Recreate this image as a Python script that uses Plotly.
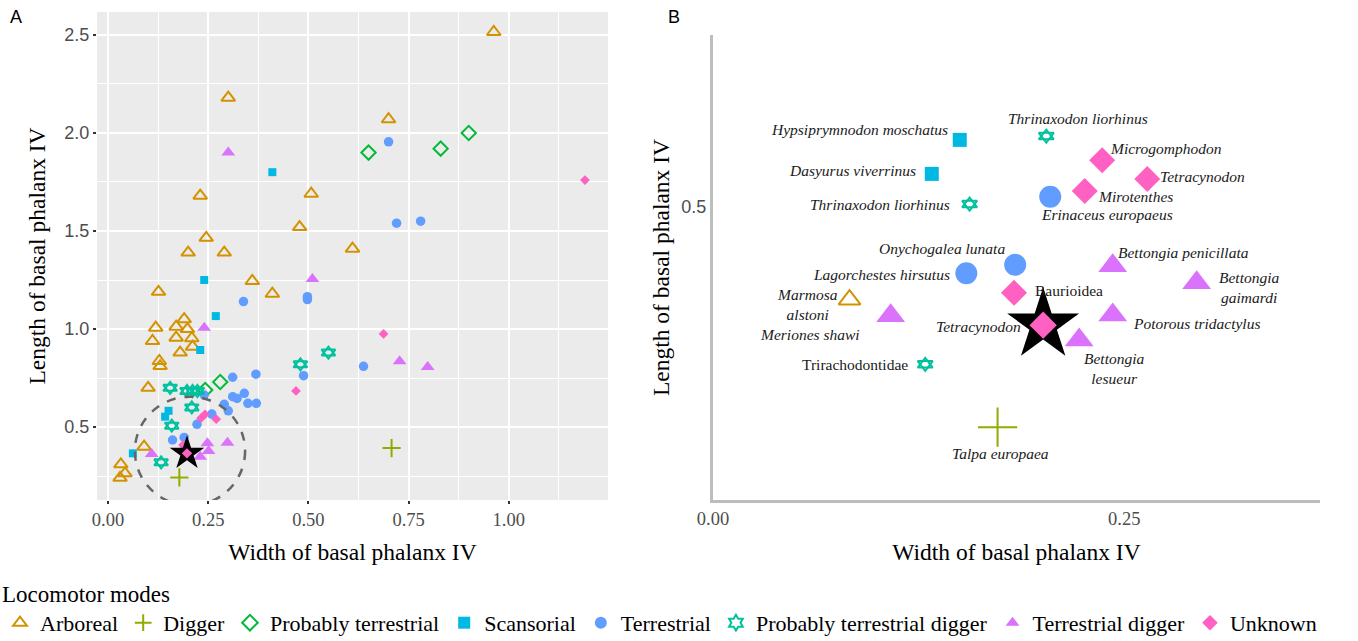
import plotly.graph_objects as go

SERIF = "Liberation Serif"
SANS = "Liberation Sans"

# ---------------- categories / styles ----------------
modes = ["Arboreal", "Digger", "Probably terrestrial", "Scansorial", "Terrestrial",
         "Probably terrestrial digger", "Terrestrial digger", "Unknown"]
mode_colors = ["#D39200", "#93AA00", "#00BA38", "#00B9E3", "#619CFF", "#00C19F", "#DB72FB", "#FF61C3"]
mode_symbols = ["triangle-up-open", "cross-thin-open", "diamond-open", "square", "circle",
                "triangle-up-open", "triangle-up", "diamond"]
size_a = [12, 13, 11, 8, 9.5, 12, 12, 7.5]
size_b = [19, 28, 18, 14, 22, 13, 25, 20]
OPEN_MODES = ("Arboreal", "Digger", "Probably terrestrial", "Probably terrestrial digger")
STAR_OF_DAVID = "Probably terrestrial digger"

# ---------------- Panel A data ----------------
arboreal_x = [0.9625, 0.70, 0.30, 0.23, 0.507, 0.478, 0.245, 0.20, 0.29, 0.61, 0.36, 0.41,
              0.126, 0.19, 0.17, 0.119, 0.198, 0.111, 0.17, 0.209, 0.211, 0.18, 0.128, 0.13,
              0.10, 0.09, 0.032, 0.0425, 0.03]
arboreal_y = [2.515, 2.07, 2.18, 1.68, 1.69, 1.52, 1.465, 1.39, 1.39, 1.41, 1.245, 1.18,
              1.19, 1.05, 1.012, 1.007, 1.00, 0.939, 0.956, 0.953, 0.91, 0.88, 0.837, 0.811,
              0.70, 0.40, 0.31, 0.264, 0.241]
digger_x = [0.178, 0.7075]
digger_y = [0.243, 0.393]
prob_terr_x = [0.65, 0.83, 0.90, 0.28, 0.2425]
prob_terr_y = [1.90, 1.92, 2.00, 0.73, 0.689]
scansorial_x = [0.41, 0.24, 0.269, 0.23, 0.151, 0.1425, 0.062]
scansorial_y = [1.80, 1.25, 1.066, 0.893, 0.583, 0.553, 0.366]
terrestrial_x = [0.70, 0.72, 0.78, 0.338, 0.4975, 0.4975, 0.311, 0.369, 0.488, 0.6375, 0.24,
                 0.311, 0.322, 0.34, 0.349, 0.37, 0.29, 0.30, 0.259, 0.222, 0.19, 0.161]
terrestrial_y = [1.955, 1.54, 1.55, 1.14, 1.165, 1.15, 0.754, 0.77, 0.762, 0.81, 0.663,
                 0.655, 0.646, 0.672, 0.621, 0.621, 0.616, 0.583, 0.566, 0.514, 0.447, 0.434]
prob_terr_digger_x = [0.155, 0.197, 0.211, 0.223, 0.209, 0.159, 0.1325, 0.48, 0.55]
prob_terr_digger_y = [0.70, 0.684, 0.684, 0.684, 0.60, 0.507, 0.32, 0.82, 0.88]
terr_digger_x = [0.30, 0.51, 0.24, 0.7275, 0.7975, 0.248, 0.251, 0.298, 0.23, 0.109]
terr_digger_y = [1.90, 1.255, 1.007, 0.836, 0.806, 0.417, 0.378, 0.42, 0.349, 0.362]
unknown_x = [1.19, 0.6875, 0.469, 0.232, 0.242, 0.27, 0.187]
unknown_y = [1.76, 0.975, 0.684, 0.545, 0.565, 0.54, 0.408]

focal_a_x = [0.197]
focal_a_y = [0.366]

a_x = [arboreal_x, digger_x, prob_terr_x, scansorial_x, terrestrial_x,
       prob_terr_digger_x, terr_digger_x, unknown_x]
a_y = [arboreal_y, digger_y, prob_terr_y, scansorial_y, terrestrial_y,
       prob_terr_digger_y, terr_digger_y, unknown_y]

# highlighted region (dashed circle) in panel A data units
circle_x = [0.067, 0.342]
circle_y = [0.10, 0.655]

# ---------------- Panel B data ----------------
b_species = ["Hypsiprymnodon moschatus", "Dasyurus viverrinus", "Thrinaxodon liorhinus",
             "Thrinaxodon liorhinus", "Microgomphodon", "Tetracynodon", "Mirotenthes",
             "Erinaceus europaeus", "Onychogalea lunata", "Lagorchestes hirsutus", "Baurioidea",
             "Marmosa<br>alstoni", "Meriones shawi", "Trirachodontidae", "Talpa europaea",
             "Bettongia penicillata", "Bettongia<br>gaimardi", "Potorous tridactylus",
             "Bettongia<br>lesueur"]
b_mode = ["Scansorial", "Scansorial", "Probably terrestrial digger", "Probably terrestrial digger",
          "Unknown", "Unknown", "Unknown", "Terrestrial", "Terrestrial", "Terrestrial", "Unknown",
          "Arboreal", "Terrestrial digger", "Probably terrestrial digger", "Digger",
          "Terrestrial digger", "Terrestrial digger", "Terrestrial digger", "Terrestrial digger"]
b_x = [0.150, 0.133, 0.156, 0.2026, 0.2366, 0.264, 0.226, 0.205, 0.1837, 0.154, 0.183,
       0.083, 0.108, 0.129, 0.173, 0.243, 0.294, 0.243, 0.2226]
b_y = [0.579, 0.539, 0.5035, 0.5835, 0.555, 0.533, 0.519, 0.512, 0.432, 0.422, 0.399,
       0.391, 0.372, 0.315, 0.241, 0.431, 0.411, 0.373, 0.3435]
b_italic = [True, True, True, True, True, True, True, True, True, True, False,
            True, True, False, True, True, True, True, True]
focal_b_name = "Tetracynodon"
focal_b_x = [0.2007]
focal_b_y = [0.361]

# label placement (pixel offsets, anchors)
lab_xanchor = ["right", "right", "right", "center", "left", "left", "left", "left", "right",
               "right", "left", "right", "right", "right", "center", "left", "left", "left", "center"]
lab_xshift = [-10, -14, -18, 32, 6, 11, 11, -11, -8, -14, 19, -10, -29, -15, 3, 3, 20, 18, 35]
lab_yshift = [10, 3, 0, 18, 12, 2, -6, -18, 16, -1, 2, -5, -19, 0, -26, 13, -5, -9, -28]

# ---------------- figure ----------------
fig = go.Figure()


def add_mode_trace(xs, ys, i, size, xa, ya, show):
    m = modes[i]
    is_open = m in OPEN_MODES
    marker = dict(symbol=mode_symbols[i], size=size, color=mode_colors[i],
                  line=dict(width=2 if is_open else 0, color=mode_colors[i]))
    if m == STAR_OF_DAVID:
        # star of David = up + down open triangles
        fig.add_trace(go.Scatter(x=xs, y=ys, mode="markers", showlegend=False, legendgroup=m,
                                 xaxis=xa, yaxis=ya, marker=marker))
        fig.add_trace(go.Scatter(x=xs, y=ys, mode="markers", showlegend=False, legendgroup=m,
                                 xaxis=xa, yaxis=ya,
                                 marker=dict(marker, symbol="triangle-down-open")))
        if show:
            fig.add_trace(go.Scatter(x=[None], y=[None], mode="markers", name=m, legendgroup=m,
                                     xaxis=xa, yaxis=ya,
                                     marker=dict(symbol="hexagram-open", size=12,
                                                 color=mode_colors[i],
                                                 line=dict(width=1.5, color=mode_colors[i]))))
    else:
        fig.add_trace(go.Scatter(x=xs, y=ys, mode="markers", name=m, legendgroup=m,
                                 showlegend=show, xaxis=xa, yaxis=ya, marker=marker))


for i, m in enumerate(modes):
    add_mode_trace(a_x[i], a_y[i], i, size_a[i], "x", "y", True)

fig.add_trace(go.Scatter(x=focal_a_x, y=focal_a_y, mode="markers", showlegend=False,
                         xaxis="x", yaxis="y",
                         marker=dict(symbol="star", size=26, color="black", line=dict(width=0))))
fig.add_trace(go.Scatter(x=focal_a_x, y=focal_a_y, mode="markers", showlegend=False,
                         xaxis="x", yaxis="y",
                         marker=dict(symbol="diamond", size=8, color=mode_colors[7], line=dict(width=0))))

# panel B
for i, m in enumerate(modes):
    idx = [k for k, mm in enumerate(b_mode) if mm == m]
    if not idx:
        continue
    add_mode_trace([b_x[k] for k in idx], [b_y[k] for k in idx], i, size_b[i], "x2", "y2", False)

fig.add_trace(go.Scatter(x=focal_b_x, y=focal_b_y, mode="markers", showlegend=False,
                         xaxis="x2", yaxis="y2",
                         marker=dict(symbol="star", size=54, color="black", line=dict(width=0))))
fig.add_trace(go.Scatter(x=focal_b_x, y=focal_b_y, mode="markers", showlegend=False,
                         xaxis="x2", yaxis="y2",
                         marker=dict(symbol="diamond", size=21, color=mode_colors[7], line=dict(width=0))))

LABEL_SIZE = 15.5
annotations = []
for k, name in enumerate(b_species):
    txt = f"<i>{name}</i>" if b_italic[k] else name
    annotations.append(dict(
        x=b_x[k], y=b_y[k], xref="x2", yref="y2", text=txt, showarrow=False,
        xanchor=lab_xanchor[k], yanchor="middle", xshift=lab_xshift[k], yshift=lab_yshift[k],
        align="center", font=dict(family=SERIF, size=LABEL_SIZE, color="#1A1A1A")))
annotations.append(dict(
    x=focal_b_x[0], y=focal_b_y[0], xref="x2", yref="y2", text=f"<i>{focal_b_name}</i>",
    showarrow=False, xanchor="right", yanchor="middle", xshift=-20, yshift=-1,
    font=dict(family=SERIF, size=LABEL_SIZE, color="#1A1A1A")))

# panel letters
annotations.append(dict(x=8 / 1358, y=1 - 17 / 641, xref="paper", yref="paper", text="A",
                        showarrow=False, xanchor="left", yanchor="middle",
                        font=dict(family=SANS, size=18, color="black")))
annotations.append(dict(x=666 / 1358, y=1 - 17 / 641, xref="paper", yref="paper", text="B",
                        showarrow=False, xanchor="left", yanchor="middle",
                        font=dict(family=SANS, size=18, color="black")))

shapes = [
    dict(type="rect", xref="x domain", yref="y domain", x0=0, x1=1, y0=0, y1=1,
         fillcolor="#EBEBEB", line=dict(width=0), layer="below"),
    dict(type="circle", xref="x", yref="y", x0=circle_x[0], x1=circle_x[1],
         y0=circle_y[0], y1=circle_y[1], line=dict(color="#666666", width=2.5, dash="dash"),
         layer="above"),
]

title_font = dict(family=SERIF, size=23.5, color="black")

fig.update_layout(
    width=1358, height=641,
    margin=dict(l=0, r=0, t=0, b=0, autoexpand=False),
    paper_bgcolor="white", plot_bgcolor="rgba(0,0,0,0)",
    showlegend=True,
    xaxis=dict(domain=[97 / 1358, 608 / 1358], anchor="y", range=[-0.0275, 1.2475],
               automargin=False,
               tickmode="linear", tick0=0, dtick=0.25, tickformat=".2f",
               showgrid=True, gridcolor="white", gridwidth=2, zeroline=False,
               minor=dict(tick0=0, dtick=0.125, showgrid=True, gridcolor="white", gridwidth=1),
               ticks="outside", ticklen=3, tickwidth=2, tickcolor="#333333",
               tickfont=dict(family=SERIF, size=18.5, color="#4D4D4D"),
               title=dict(text="Width of basal phalanx IV", font=title_font, standoff=14),
               showline=False),
    yaxis=dict(domain=[141 / 641, 629 / 641], anchor="x", range=[0.128, 2.617],
               automargin=False,
               tickmode="linear", tick0=0, dtick=0.5, tickformat=".1f",
               showgrid=True, gridcolor="white", gridwidth=2, zeroline=False,
               minor=dict(tick0=0, dtick=0.25, showgrid=True, gridcolor="white", gridwidth=1),
               ticks="outside", ticklen=3, tickwidth=2, tickcolor="#333333",
               tickfont=dict(family=SANS, size=18, color="#4D4D4D"),
               title=dict(text="Length of basal phalanx IV", font=title_font, standoff=12),
               showline=False),
    xaxis2=dict(domain=[713 / 1358, 1320 / 1358], anchor="y2", range=[0, 0.369],
                automargin=False,
                tickvals=[0, 0.25], ticktext=["0.00", "0.25"], showgrid=False, zeroline=False,
                showline=True, linecolor="#BDBDBD", linewidth=3, ticks="",
                tickfont=dict(family=SERIF, size=18.5, color="#4D4D4D"),
                title=dict(text="Width of basal phalanx IV", font=title_font, standoff=16)),
    yaxis2=dict(domain=[141 / 641, 606 / 641], anchor="x2", range=[0.1553, 0.7024],
                automargin=False,
                tickvals=[0.5], ticktext=["0.5"], showgrid=False, zeroline=False,
                showline=True, linecolor="#BDBDBD", linewidth=3, ticks="",
                tickfont=dict(family=SANS, size=18, color="#4D4D4D"),
                title=dict(text="Length of basal phalanx IV", font=title_font, standoff=6)),
    legend=dict(orientation="h", x=0, xanchor="left", y=1 - 572 / 641, yanchor="top",
                title=dict(text="Locomotor modes", side="top",
                           font=dict(family=SERIF, size=23, color="black")),
                font=dict(family=SERIF, size=22, color="black"),
                bgcolor="rgba(0,0,0,0)", itemwidth=30, tracegroupgap=0,
                itemsizing="constant"),
    shapes=shapes,
    annotations=annotations,
)

fig.write_html("out.html", config={"displayModeBar": False},
               post_script="document.body.style.margin='0px';document.body.style.padding='0px';")
